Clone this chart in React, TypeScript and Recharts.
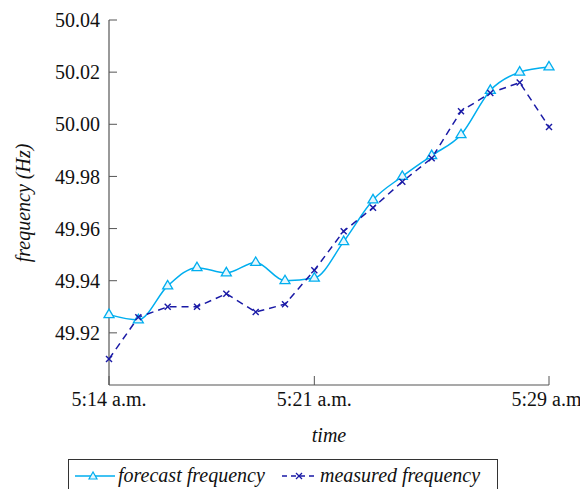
import { LineChart, Line, XAxis, YAxis } from "recharts";

const minutes = [0, 1, 2, 3, 4, 5, 6, 7, 8, 9, 10, 11, 12, 13, 14, 15];
const forecast = [
  49.927, 49.925, 49.938, 49.945, 49.943, 49.947, 49.94, 49.941,
  49.955, 49.971, 49.98, 49.988, 49.996, 50.013, 50.02, 50.022,
];
const measured = [
  49.91, 49.926, 49.93, 49.93, 49.935, 49.928, 49.931, 49.944,
  49.959, 49.968, 49.978, 49.987, 50.005, 50.012, 50.016, 49.999,
];
const xTicks = [0, 7, 15];
const xTickLabels = ["5:14 a.m.", "5:21 a.m.", "5:29 a.m."];
const yTicks = [49.92, 49.94, 49.96, 49.98, 50.0, 50.02, 50.04];

const data = minutes.map((t, i) => ({ t, forecast: forecast[i], measured: measured[i] }));

const CYAN = "#00aeef";
const NAVY = "#1a1aa6";
const AXIS = "#555";
const FONT = "'Liberation Serif', 'Times New Roman', serif";

function formatX(v: number): string {
  const i = xTicks.indexOf(v);
  return i >= 0 ? xTickLabels[i] : "";
}

function Triangle(props: any) {
  const { cx, cy } = props;
  if (cx == null || cy == null) return null;
  return (
    <polygon
      points={`${cx},${cy - 5.5} ${cx - 5},${cy + 3} ${cx + 5},${cy + 3}`}
      fill="#e6f7fd"
      stroke={CYAN}
      strokeWidth={1.3}
    />
  );
}

function Cross(props: any) {
  const { cx, cy } = props;
  if (cx == null || cy == null) return null;
  return (
    <g stroke={NAVY} strokeWidth={1.4}>
      <line x1={cx - 3} y1={cy - 3} x2={cx + 3} y2={cy + 3} />
      <line x1={cx - 3} y1={cy + 3} x2={cx + 3} y2={cy - 3} />
    </g>
  );
}

// page coordinates are shifted by the 8px body margin
const OFF = 8;

export default function App() {
  const tickStyle = { fontSize: 20, fill: "#111", fontFamily: FONT };
  return (
    <div style={{ position: "relative", width: 580, height: 481, fontFamily: FONT }}>
      <div style={{ position: "absolute", left: -OFF, top: -OFF }}>
        <LineChart
          width={588}
          height={489}
          data={data}
          margin={{ top: 20, right: 39, bottom: 54, left: 0 }}
        >
          <XAxis
            dataKey="t"
            type="number"
            domain={[0, 15]}
            ticks={xTicks}
            tickFormatter={formatX}
            tick={tickStyle}
            tickSize={-9}
            tickMargin={16}
            height={50}
            axisLine={{ stroke: AXIS, strokeWidth: 1.2 }}
            tickLine={{ stroke: AXIS }}
            interval={0}
          />
          <XAxis
            xAxisId="top"
            orientation="top"
            type="number"
            domain={[0, 15]}
            ticks={xTicks}
            tick={false}
            tickSize={-9}
            height={0}
            axisLine={{ stroke: AXIS, strokeWidth: 1.2 }}
            tickLine={{ stroke: AXIS }}
          />
          <YAxis
            type="number"
            domain={[49.9, 50.04]}
            ticks={yTicks}
            tickFormatter={(v: number) => v.toFixed(2)}
            tick={tickStyle}
            tickSize={-8}
            tickMargin={17}
            width={109}
            allowDataOverflow
            axisLine={{ stroke: AXIS, strokeWidth: 1.2 }}
            tickLine={{ stroke: AXIS }}
            interval={0}
          />
          <YAxis
            yAxisId="r"
            orientation="right"
            type="number"
            domain={[49.9, 50.04]}
            ticks={yTicks}
            tick={false}
            tickSize={-8}
            width={0}
            allowDataOverflow
            axisLine={{ stroke: AXIS, strokeWidth: 1.2 }}
            tickLine={{ stroke: AXIS }}
          />
          <Line
            dataKey="forecast"
            type="monotone"
            stroke={CYAN}
            strokeWidth={1.5}
            dot={<Triangle />}
            activeDot={false}
            isAnimationActive={false}
          />
          <Line
            dataKey="measured"
            type="linear"
            stroke={NAVY}
            strokeWidth={1.5}
            strokeDasharray="7 5"
            dot={<Cross />}
            activeDot={false}
            isAnimationActive={false}
          />
        </LineChart>
      </div>

      <div
        style={{
          position: "absolute",
          left: 23 - OFF,
          top: 203 - OFF,
          transform: "translate(-50%, -50%) rotate(-90deg)",
          fontSize: 20,
          fontStyle: "italic",
          whiteSpace: "nowrap",
          color: "#111",
          lineHeight: 1,
        }}
      >
        frequency (Hz)
      </div>
      <div
        style={{
          position: "absolute",
          left: 329 - OFF,
          top: 435 - OFF,
          transform: "translate(-50%, -50%)",
          fontSize: 20,
          fontStyle: "italic",
          color: "#111",
          lineHeight: 1,
        }}
      >
        time
      </div>

      <svg
        width={430}
        height={34}
        style={{ position: "absolute", left: 68 - OFF, top: 459 - OFF, overflow: "visible" }}
      >
        <rect x={0.5} y={0.5} width={429} height={32} fill="none" stroke="#333" strokeWidth={1} />
        <line x1={7} y1={17} x2={47} y2={17} stroke={CYAN} strokeWidth={1.5} />
        <polygon points="25,13 21,20 29,20" fill="#e6f7fd" stroke={CYAN} strokeWidth={1.2} />
        <line x1={214} y1={17} x2={249} y2={17} stroke={NAVY} strokeWidth={1.5} strokeDasharray="5 4" />
        <line x1={228} y1={14} x2={234} y2={20} stroke={NAVY} strokeWidth={1.3} />
        <line x1={228} y1={20} x2={234} y2={14} stroke={NAVY} strokeWidth={1.3} />
        <text x={50} y={23} fontSize={20} fontStyle="italic" fontFamily={FONT} fill="#111">
          forecast frequency
        </text>
        <text x={252} y={23} fontSize={20} fontStyle="italic" fontFamily={FONT} fill="#111">
          measured frequency
        </text>
      </svg>
    </div>
  );
}
